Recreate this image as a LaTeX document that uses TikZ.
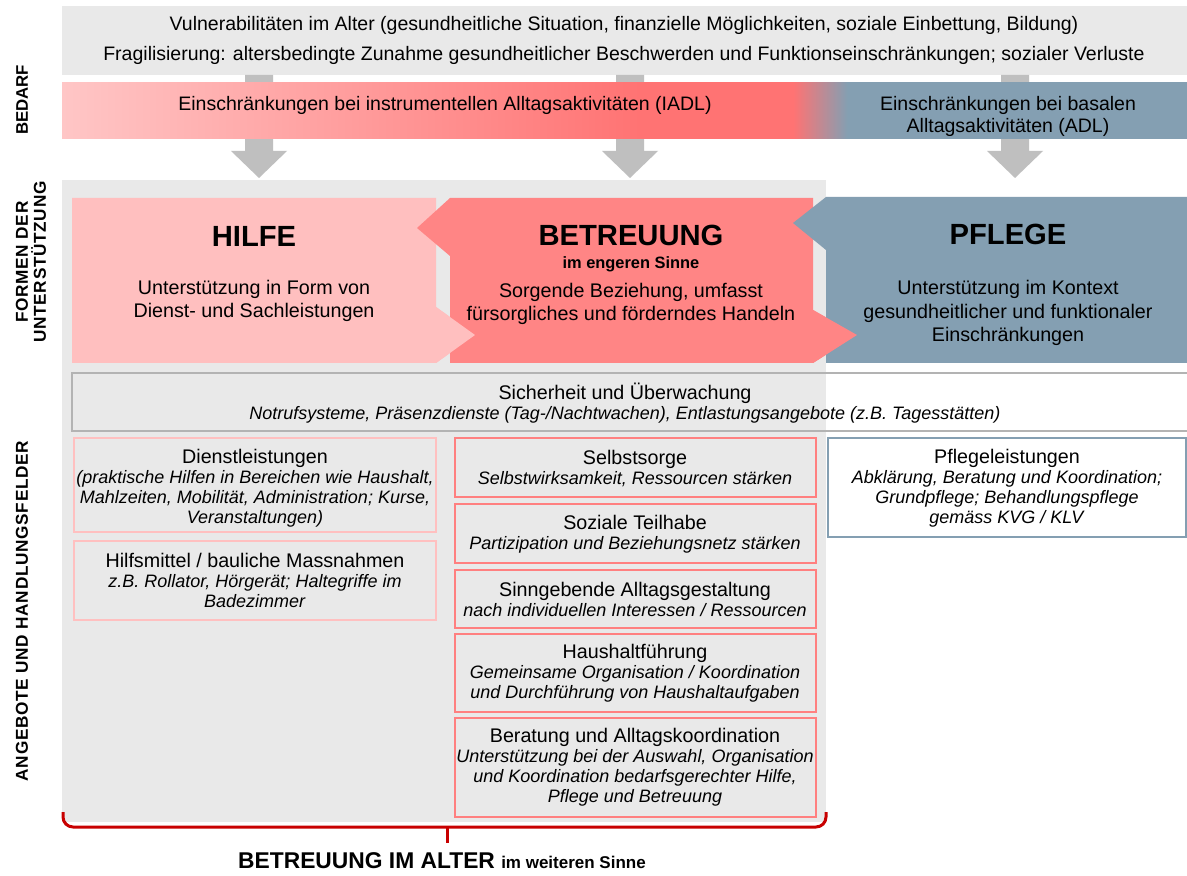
\documentclass[tikz,border=0pt]{standalone}
\usepackage{fontspec}
\setmainfont{Liberation Sans}
\definecolor{lgray}{HTML}{E9E9E9}
\definecolor{arrgray}{HTML}{BFBFBF}
\definecolor{pinkc}{HTML}{FFBFBF}
\definecolor{redc}{HTML}{FF8585}
\definecolor{bluec}{HTML}{849FB2}
\definecolor{grpink}{HTML}{FFC6C6}
\definecolor{grred}{HTML}{FF7373}
\definecolor{sgray}{HTML}{B3B3B3}
\definecolor{pinkb}{HTML}{FFC0C0}
\definecolor{redb}{HTML}{FF8080}
\definecolor{bracered}{HTML}{C80000}
\pgfdeclarehorizontalshading{barshade}{100bp}{color(0bp)=(grpink); color(25bp)=(grpink); color(50.7bp)=(grred); color(57.5bp)=(grred); color(59.9bp)=(bluec); color(75bp)=(bluec); color(100bp)=(bluec)}
\begin{document}
\begin{tikzpicture}[x=0.5pt,y=-0.5pt,
  toptxt/.style={font=\fontsize{9.75}{11}\selectfont, inner sep=0pt},
  bartxt/.style={font=\fontsize{9.75}{11}\selectfont, align=center, inner sep=0pt},
  head/.style={font=\fontsize{14.6}{16}\selectfont\bfseries, inner sep=0pt},
  chevtxt/.style={font=\fontsize{9.85}{11.6}\selectfont, align=center, inner sep=0pt},
  boxtxt/.style={font=\fontsize{9}{10}\selectfont, align=center, inner sep=0pt},
  lbl/.style={font=\fontsize{8.6}{9}\selectfont\bfseries\addfontfeature{LetterSpace=4}, align=center, inner sep=0pt, rotate=90},
  pinkbox/.style={draw=pinkb, line width=1pt},
  redbox/.style={draw=redb, line width=1pt},
  bluebox/.style={draw=bluec, line width=1pt},
  brace/.style={draw=bracered, line width=1.5pt, rounded corners=5pt}
]
\useasboundingbox (0,0) rectangle (1187,876);
\fill[white] (0,0) rectangle (1187,876);

% top bar
\fill[lgray] (62,6) rectangle (1187,75);
\node[toptxt] (vul) at (624,25) {Vulnerabilitäten im Alter (gesundheitliche Situation, finanzielle Möglichkeiten, soziale Einbettung, Bildung)};
\node[toptxt] (frag) at (624,55) {Fragilisierung: altersbedingte Zunahme gesundheitlicher Beschwerden und Funktionseinschränkungen; sozialer Verluste};

% gray block arrows
\foreach \c in {259,630,1015}
  \fill[arrgray] (\c-14,75) -- (\c+14,75) -- (\c+14,151) -- (\c+28,151) -- (\c,178) -- (\c-28,151) -- (\c-14,151) -- cycle;

% gradient bar
\shade[shading=barshade] (62,83) rectangle (1187,139);
\node[bartxt] (iadl) at (445,105) {Einschränkungen bei instrumentellen Alltagsaktivitäten (IADL)};
\node[bartxt] (adl) at (1008,116) {Einschränkungen bei basalen\\Alltagsaktivitäten (ADL)};

% big panel
\fill[lgray] (62,180) rectangle (826,822);

% chevrons
\fill[pinkc] (72,198) -- (436,198) -- (436,307) -- (475,335) -- (436,363) -- (72,363) -- cycle;
\fill[redc] (450,198) -- (813,198) -- (813,310) -- (857,335) -- (813,363) -- (450,363) -- (450,256) -- (417,228) -- cycle;
\fill[bluec] (826,197) -- (1187,197) -- (1187,363) -- (826,363) -- (826,250) -- (793,223) -- cycle;
\fill[pinkc] (436,307) -- (475,335) -- (436,363) -- cycle;
\fill[redc] (813,310) -- (857,335) -- (813,363) -- cycle;

\node[head] (hilfe) at (254,236) {HILFE};
\node[chevtxt] (hilfetxt) at (254,301) {Unterstützung in Form von\\Dienst- und Sachleistungen};
\node[head] (betr) at (631,235) {BETREUUNG};
\node[inner sep=0pt, font=\fontsize{8.2}{9}\selectfont\bfseries] (eng) at (631,264) {im engeren Sinne};
\node[chevtxt] (betrtxt) at (631,304) {Sorgende Beziehung, umfasst\\fürsorgliches und förderndes Handeln};
\node[head] (pflege) at (1008,234) {PFLEGE};
\node[chevtxt] (pflegetxt) at (1008,313) {Unterstützung im Kontext\\gesundheitlicher und funktionaler\\Einschränkungen};

% Sicherheit
\draw[sgray, line width=1pt] (1195,373) -- (72,373) -- (72,431) -- (1195,431);
\node[boxtxt] (sich) at (625,403) {{\fontsize{9.85}{10}\selectfont Sicherheit und Überwachung}\\\textit{Notrufsysteme, Präsenzdienste (Tag-/Nachtwachen), Entlastungsangebote (z.B. Tagesstätten)}};

% left column
\draw[pinkbox] (74,438) rectangle (436,532);
\node[boxtxt] (dienst) at (255,488) {{\fontsize{9.85}{10}\selectfont Dienstleistungen}\\\textit{(praktische Hilfen in Bereichen wie Haushalt,}\\\textit{Mahlzeiten, Mobilität, Administration; Kurse,}\\\textit{Veranstaltungen)}};
\draw[pinkbox] (74,541) rectangle (436,620);
\node[boxtxt] (hilfsm) at (255,580) {{\fontsize{9.85}{10}\selectfont Hilfsmittel / bauliche Massnahmen}\\\textit{z.B. Rollator, Hörgerät; Haltegriffe im}\\\textit{Badezimmer}};

% middle column
\draw[redbox] (455,438) rectangle (816,497);
\node[boxtxt] (selbst) at (635,469) {{\fontsize{9.85}{10}\selectfont Selbstsorge}\\\textit{Selbstwirksamkeit, Ressourcen stärken}};
\draw[redbox] (455,504) rectangle (816,563);
\node[boxtxt] (sozial) at (635,534) {{\fontsize{9.85}{10}\selectfont Soziale Teilhabe}\\\textit{Partizipation und Beziehungsnetz stärken}};
\draw[redbox] (455,570) rectangle (816,628);
\node[boxtxt] (sinn) at (635,599) {{\fontsize{9.85}{10}\selectfont Sinngebende Alltagsgestaltung}\\\textit{nach individuellen Interessen / Ressourcen}};
\draw[redbox] (455,634) rectangle (816,712);
\node[boxtxt] (haus) at (635,673) {{\fontsize{9.85}{10}\selectfont Haushaltführung}\\\textit{Gemeinsame Organisation / Koordination}\\\textit{und Durchführung von Haushaltaufgaben}};
\draw[redbox] (455,718) rectangle (816,817);
\node[boxtxt] (berat) at (635,767) {{\fontsize{9.85}{10}\selectfont Beratung und Alltagskoordination}\\\textit{Unterstützung bei der Auswahl, Organisation}\\\textit{und Koordination bedarfsgerechter Hilfe,}\\\textit{Pflege und Betreuung}};

% right column
\draw[bluebox] (828,438) rectangle (1186,537);
\node[boxtxt] (pfleist) at (1007,488) {{\fontsize{9.85}{10}\selectfont Pflegeleistungen}\\\textit{Abklärung, Beratung und Koordination;}\\\textit{Grundpflege; Behandlungspflege}\\\textit{gemäss KVG / KLV}};

% brace
\draw[brace] (63,812) -- (63,827) -- (826,827) -- (826,812);
\draw[brace, rounded corners=0pt] (447,827) -- (447,843);
\node[inner sep=0pt, anchor=base] (bottom) at (442,868) {\fontsize{11.4}{13}\selectfont\bfseries BETREUUNG IM ALTER {\fontsize{8.5}{10}\selectfont im weiteren Sinne}};

% side labels
\node[lbl, font=\fontsize{8.4}{9}\selectfont\bfseries] (bedarf) at (22,100) {BEDARF};
\node[lbl] (formen) at (31,262) {FORMEN DER\\UNTERSTÜTZUNG};
\node[lbl] (angebote) at (22,611) {ANGEBOTE UND HANDLUNGSFELDER};
\end{tikzpicture}
\end{document}
